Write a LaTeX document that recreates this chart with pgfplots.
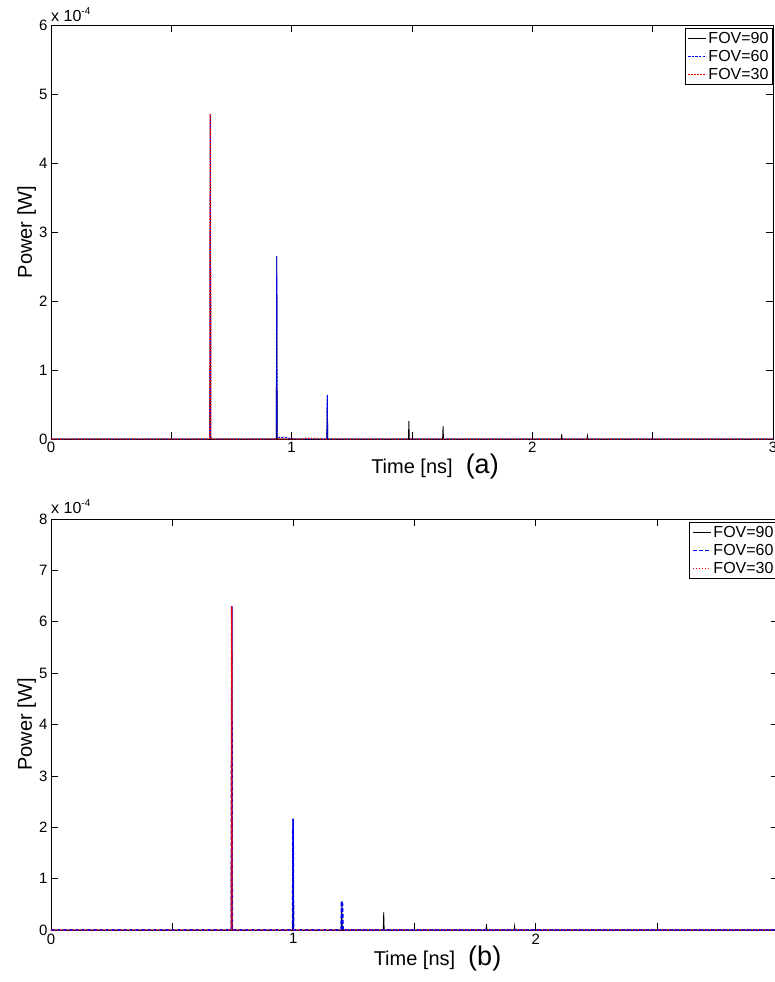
\documentclass[border=0pt]{standalone}
\usepackage{fontspec}
\setmainfont{Liberation Sans}
\usepackage{pgfplots}
\pgfplotsset{compat=1.18}

\pgfplotsset{
  panel/.style={
    scale only axis,
    anchor=south west,
    xmin=0, xmax=3,
    xtick={0,0.5,1,1.5,2,2.5,3},
    xticklabels={0,,1,,2,,3},
    tick align=inside,
    major tick length=7pt,
    axis line style={line width=0.9pt},
    every tick/.style={black, line width=0.6pt},
    tick label style={font=\fontsize{15}{17}\selectfont},
    /pgf/number format/assume math mode=true,
    every axis x label/.style={at={(axis description cs:0.5,0)}, anchor=base, yshift=-35pt,
      font=\fontsize{20}{24}\selectfont},
    every axis y label/.style={rotate=90, anchor=base, font=\fontsize{20}{24}\selectfont},
    ylabel={Power [W]},
    clip=false,
    legend cell align=left,
    legend image code/.code={\draw[#1, line cap=butt] (0pt,0pt) -- (18pt,0pt);},
    legend style={at={(axis description cs:1,1)}, anchor=north east, yshift=-3pt,
      draw=black, line width=1pt, fill=white,
      font=\fontsize{16}{18}\selectfont,
      inner xsep=2.5pt, inner ysep=2pt, row sep=2.5pt,
      nodes={inner sep=1.5pt}},
  }
}

\begin{document}
\begin{tikzpicture}
% ---------- panel (a) ----------
\begin{axis}[panel, name=top,
  at={(51pt,543pt)}, width=722pt, height=414pt,
  ymin=0, ymax=6, ytick={0,1,2,3,4,5,6},
  xlabel={Time [ns]\rlap{\hspace{13pt}\fontsize{27}{30}\selectfont(a)}},
  y label style={at={(axis description cs:-0.0264,0.5)}},
]
\addplot[color=black, line width=0.8pt] coordinates {
(0,0) (0.660,0) (0.662,4.71) (0.664,0)
(0.936,0) (0.938,2.65) (0.940,0)
(1.146,0) (1.148,0.64) (1.150,0)
(1.485,0) (1.487,0.26) (1.489,0)
(1.627,0) (1.629,0.19) (1.631,0)
(2.120,0) (2.122,0.07) (2.124,0)
(2.227,0) (2.229,0.05) (2.231,0)
(3,0)};
\addlegendentry{FOV=90}
\addplot[color=blue, line width=0.9pt, dash pattern=on 2.4pt off 1.2pt] coordinates {
(0,0) (0.660,0) (0.662,4.71) (0.664,0)
(0.936,0) (0.938,2.65) (0.940,0.03) (0.955,0.02) (0.970,0.03) (0.990,0.01) (1.020,0)
(1.146,0) (1.148,0.64) (1.150,0)
(3,0)};
\addlegendentry{FOV=60}
\addplot[color=red, line width=1.4pt, dash pattern=on 1.3pt off 1.7pt] coordinates {
(0,0) (0.660,0) (0.662,4.71) (0.664,0)
(1.040,0) (1.060,0.01) (1.100,0.01) (1.120,0)
(3,0)};
\addlegendentry{FOV=30}
\end{axis}
\node[anchor=base west, inner sep=0pt, font=\fontsize{16}{18}\selectfont]
  at ([yshift=3pt]top.north west) {x 10\raisebox{7pt}{\fontsize{10}{12}\selectfont -4}};

% ---------- panel (b) ----------
\begin{axis}[panel, name=bot,
  at={(51pt,52pt)}, width=727pt, height=411pt,
  ymin=0, ymax=8, ytick={0,1,2,3,4,5,6,7,8},
  xticklabels={0,,1,,2,,},
  xlabel={Time [ns]\rlap{\hspace{13pt}\fontsize{27}{30}\selectfont(b)}},
  y label style={at={(axis description cs:-0.0262,0.5)}},
]
\addplot[color=black, line width=0.8pt] coordinates {
(0,0) (0.744,0) (0.746,6.30) (0.748,0)
(0.997,0) (0.999,2.17) (1.001,0)
(1.198,0) (1.200,0.56) (1.202,0)
(1.371,0) (1.373,0.35) (1.375,0)
(1.795,0) (1.797,0.12) (1.799,0)
(1.911,0) (1.913,0.08) (1.915,0)
(3,0)};
\addlegendentry{FOV=90}
\addplot[color=blue, line width=1.6pt, dash pattern=on 4pt off 2pt] coordinates {
(0,0) (0.744,0) (0.746,6.30) (0.748,0)
(0.997,0) (0.999,2.17) (1.001,0)
(1.197,0) (1.199,0.56) (1.203,0.50) (1.205,0)
(3,0)};
\addlegendentry{FOV=60}
\addplot[color=red, line width=1.3pt, dash pattern=on 1.3pt off 1.7pt] coordinates {
(0,0) (0.744,0) (0.746,6.30) (0.748,0)
(3,0)};
\addlegendentry{FOV=30}
\end{axis}
\node[anchor=base west, inner sep=0pt, font=\fontsize{16}{18}\selectfont]
  at ([yshift=5pt]bot.north west) {x 10\raisebox{7pt}{\fontsize{10}{12}\selectfont -4}};

\pgfresetboundingbox
\useasboundingbox (0pt,0pt) rectangle (775pt,982pt);
\end{tikzpicture}
\end{document}
